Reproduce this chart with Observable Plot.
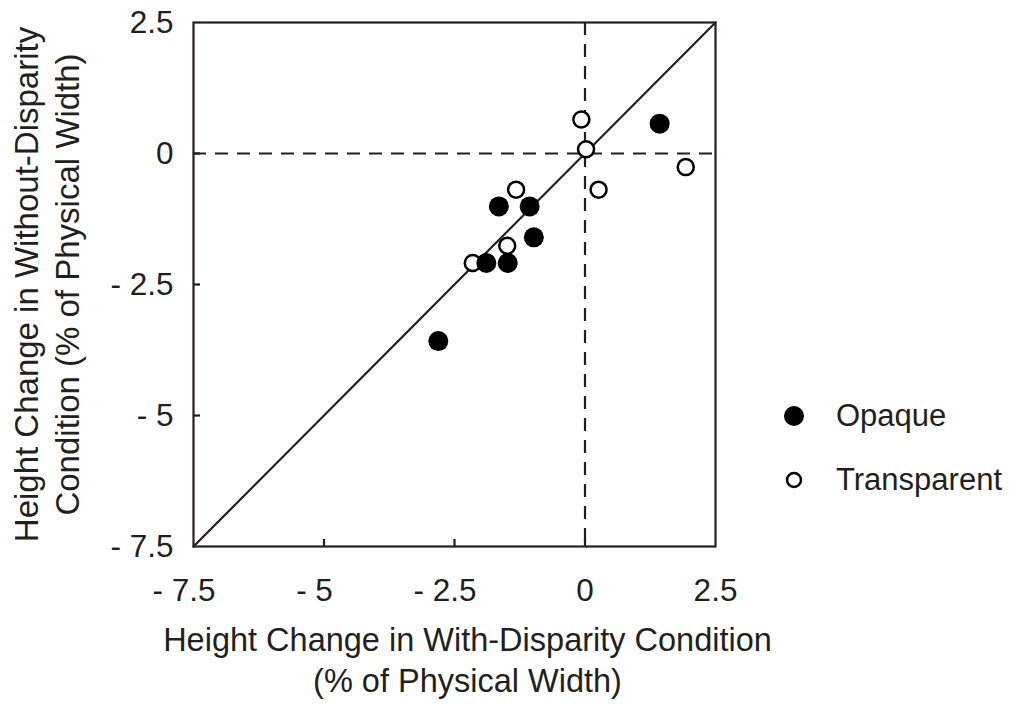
<!DOCTYPE html>
<html>
<head>
<meta charset="utf-8">
<script src="https://cdn.jsdelivr.net/npm/d3@7"></script>
<script src="https://cdn.jsdelivr.net/npm/@observablehq/plot@0.6"></script>
<style>
  html, body { margin: 0; padding: 0; background: #fff; }
  #wrap { position: relative; width: 1010px; height: 705px; font-family: "Liberation Sans", Arial, Helvetica, sans-serif; color: #231f20; }
  #legend { position: absolute; left: 0; top: 0; width: 1010px; height: 705px; pointer-events: none; }
  .item { position: absolute; font-size: 31px; line-height: 1; white-space: nowrap; }
</style>
</head>
<body>
<div id="wrap"></div>
<script>
// ---- data ----
const opaqueX = [1.43, -1.65, -1.06, -0.98, -1.89, -1.48, -2.81];
const opaqueY = [0.57, -1.01, -1.01, -1.60, -2.09, -2.09, -3.58];
const transparentX = [-0.07, 0.02, 1.93, 0.26, -1.32, -1.49, -2.15];
const transparentY = [0.65, 0.08, -0.26, -0.69, -0.69, -1.76, -2.09];

const tickValues = [-7.5, -5, -2.5, 0, 2.5];
const tickLabels = ["- 7.5", "- 5", "- 2.5", "0", "2.5"];
const innerTicks = [-5, -2.5, 0];
const diagonal = [-7.5, 2.5];

const seriesNames = ["Opaque", "Transparent"];
const xLabel = "Height Change in With-Disparity Condition\n(% of Physical Width)";
const yLabel = "Height Change in Without-Disparity\nCondition (% of Physical Width)";

// ---- tables built from the arrays ----
const opaque = opaqueX.map((x, i) => ({x, y: opaqueY[i]}));
const transparent = transparentX.map((x, i) => ({x, y: transparentY[i]}));
const fmt = v => tickLabels[tickValues.indexOf(v)];
const negTicks = tickValues.filter(v => v < 0);
const posTicks = tickValues.filter(v => v >= 0);

const ink = "#231f20";
const sw = 2.2;

const chart = Plot.plot({
  width: 1010,
  height: 705,
  marginLeft: 193,
  marginRight: 295,
  marginTop: 22,
  marginBottom: 159,
  style: { fontFamily: '"Liberation Sans", Arial, Helvetica, sans-serif', color: ink, background: "white" },
  x: { domain: [-7.5, 2.5] },
  y: { domain: [-7.5, 2.5] },
  marks: [
    Plot.ruleX([0], { stroke: ink, strokeWidth: sw, strokeDasharray: "13,9" }),
    Plot.ruleY([0], { stroke: ink, strokeWidth: sw, strokeDasharray: "13,9" }),
    Plot.line(diagonal, { x: d => d, y: d => d, stroke: ink, strokeWidth: sw }),
    // inward ticks
    Plot.axisX(innerTicks, { tickSize: 7, dy: -7, fill: "none", label: null, strokeWidth: sw, stroke: ink }),
    Plot.axisY(innerTicks, { tickSize: 7, dx: 7, fill: "none", label: null, strokeWidth: sw, stroke: ink }),
    // tick labels (the digits of the negative labels sit over the tick)
    Plot.axisX(negTicks, { tickSize: 0, tickPadding: 32, tickFormat: fmt, fontSize: 31.5, dx: -9.5, label: null, fill: ink }),
    Plot.axisX(posTicks, { tickSize: 0, tickPadding: 32, tickFormat: fmt, fontSize: 31.5, label: null, fill: ink }),
    Plot.axisY(tickValues, { tickSize: 0, tickPadding: 20, tickFormat: fmt, fontSize: 31.5, label: null, fill: ink }),
    // axis titles
    Plot.text([xLabel], { text: d => d, frameAnchor: "bottom", textAnchor: "middle", lineAnchor: "middle", dy: 112, dx: 13, fontSize: 32.5, lineHeight: 1.24, fill: ink }),
    Plot.text([yLabel], { text: d => d, frameAnchor: "left", textAnchor: "middle", rotate: -90, lineAnchor: "middle", dx: -148, fontSize: 33, lineHeight: 1.22, fill: ink }),
    // points
    Plot.dot(transparent, { x: "x", y: "y", r: 8, fill: "white", stroke: "black", strokeWidth: 2.5 }),
    Plot.dot(opaque, { x: "x", y: "y", r: 10, fill: "black", stroke: "none" }),
    Plot.frame({ stroke: ink, strokeWidth: sw })
  ]
});

const wrap = document.getElementById("wrap");
wrap.appendChild(chart);

// legend (to the right of the plot)
const legend = document.createElement("div");
legend.id = "legend";
const entries = [
  { name: seriesNames[0], cy: 416, r: 10, fill: "black", stroke: "none", sw: 0 },
  { name: seriesNames[1], cy: 480, r: 7, fill: "white", stroke: "black", sw: 2.5 }
];
for (const e of entries) {
  const svgNS = "http://www.w3.org/2000/svg";
  const s = document.createElementNS(svgNS, "svg");
  s.setAttribute("width", 30); s.setAttribute("height", 30);
  s.style.position = "absolute";
  s.style.left = (794 - 15) + "px";
  s.style.top = (e.cy - 15) + "px";
  const c = document.createElementNS(svgNS, "circle");
  c.setAttribute("cx", 15); c.setAttribute("cy", 15); c.setAttribute("r", e.r);
  c.setAttribute("fill", e.fill); c.setAttribute("stroke", e.stroke); c.setAttribute("stroke-width", e.sw);
  s.appendChild(c);
  legend.appendChild(s);
  const t = document.createElement("div");
  t.className = "item";
  t.textContent = e.name;
  t.style.left = "836px";
  t.style.top = (e.cy - 16) + "px";
  legend.appendChild(t);
}
wrap.appendChild(legend);
</script>
</body>
</html>
